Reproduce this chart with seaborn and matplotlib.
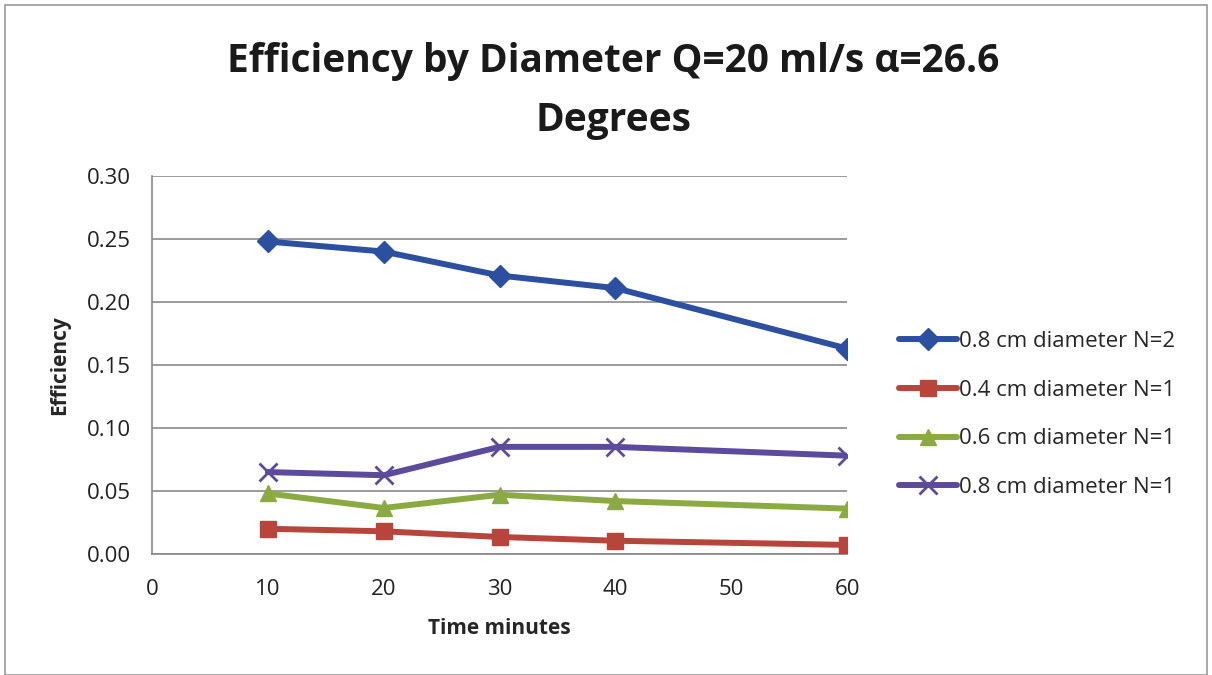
import matplotlib
matplotlib.use("Agg")
import matplotlib.pyplot as plt
import seaborn as sns
import pandas as pd
from matplotlib.patches import Rectangle

time_minutes = [10, 20, 30, 40, 60]
series_names = ["0.8 cm diameter N=2", "0.4 cm diameter N=1",
                "0.6 cm diameter N=1", "0.8 cm diameter N=1"]
eff_08_n2 = [0.248, 0.240, 0.221, 0.211, 0.163]
eff_04_n1 = [0.020, 0.018, 0.0135, 0.0105, 0.0072]
eff_06_n1 = [0.048, 0.0365, 0.047, 0.042, 0.036]
eff_08_n1 = [0.065, 0.0625, 0.085, 0.085, 0.078]
x_ticks = [0, 10, 20, 30, 40, 50, 60]
y_ticks = [0.00, 0.05, 0.10, 0.15, 0.20, 0.25, 0.30]

colors = ["#2D4FA0", "#B8453B", "#8BAA42", "#5C4A9C"]
markers = ["D", "s", "^", "x"]
msizes = [11, 12, 11, 13]

sns.set_theme(style="white")
plt.rcParams['font.family'] = ['Open Sans', 'DejaVu Sans']

rows = []
for name, vals in zip(series_names, [eff_08_n2, eff_04_n1, eff_06_n1, eff_08_n1]):
    for t, v in zip(time_minutes, vals):
        rows.append({"Time": t, "Efficiency": v, "Series": name})
df = pd.DataFrame(rows)

fig = plt.figure(figsize=(12.12, 6.75), dpi=100)
fig.patches.append(Rectangle((0.004, 0.0), 0.992, 0.992, transform=fig.transFigure,
                             fill=False, edgecolor="#9a9a9a", linewidth=1.2))
ax = fig.add_axes([0.1254, 0.1793, 0.5736, 0.56])

for i, name in enumerate(series_names):
    sub = df[df["Series"] == name]
    sns.lineplot(data=sub, x="Time", y="Efficiency", ax=ax, color=colors[i],
                 linewidth=4.3, marker=markers[i], markersize=msizes[i],
                 markeredgecolor=colors[i], markeredgewidth=2 if markers[i] == "x" else 1,
                 label=name, zorder=3)

ax.set_xlim(0, 60)
ax.set_ylim(0, 0.30)
ax.set_xticks(x_ticks)
ax.set_yticks(y_ticks)
ax.set_yticklabels([f"{v:.2f}" for v in y_ticks])
ax.tick_params(axis="both", labelsize=16, colors="#222222", length=6, width=1,
               direction="out")
ax.tick_params(axis="x", color="#888888", pad=12)
ax.tick_params(axis="y", color="#888888", pad=9)
ax.yaxis.grid(True, color="#8a8a8a", linewidth=1.2)
ax.xaxis.grid(False)
for s in ["top", "right"]:
    ax.spines[s].set_visible(False)
for s in ["left", "bottom"]:
    ax.spines[s].set_color("#888888")
    ax.spines[s].set_linewidth(1.2)

ax.set_xlabel("Time minutes", fontsize=15, fontweight="bold")
ax.set_ylabel("Efficiency", fontsize=15, fontweight="bold")
ax.xaxis.set_label_coords(0.5, -0.17)
ax.yaxis.set_label_coords(-0.118, 0.5)

fig.text(0.506, 0.865, "Efficiency by Diameter Q=20 ml/s α=26.6\nDegrees",
         ha="center", va="center", fontsize=28, fontweight="bold",
         color="#1a1a1a", linespacing=1.65)

leg = ax.legend(loc="center left", bbox_to_anchor=(899 / 1212, 1 - 414.5 / 675),
                bbox_transform=fig.transFigure, frameon=False,
                fontsize=16, handlelength=2.6, handletextpad=0.1,
                labelspacing=1.25, borderaxespad=0, borderpad=0)

fig.savefig("out.png", dpi=100)
